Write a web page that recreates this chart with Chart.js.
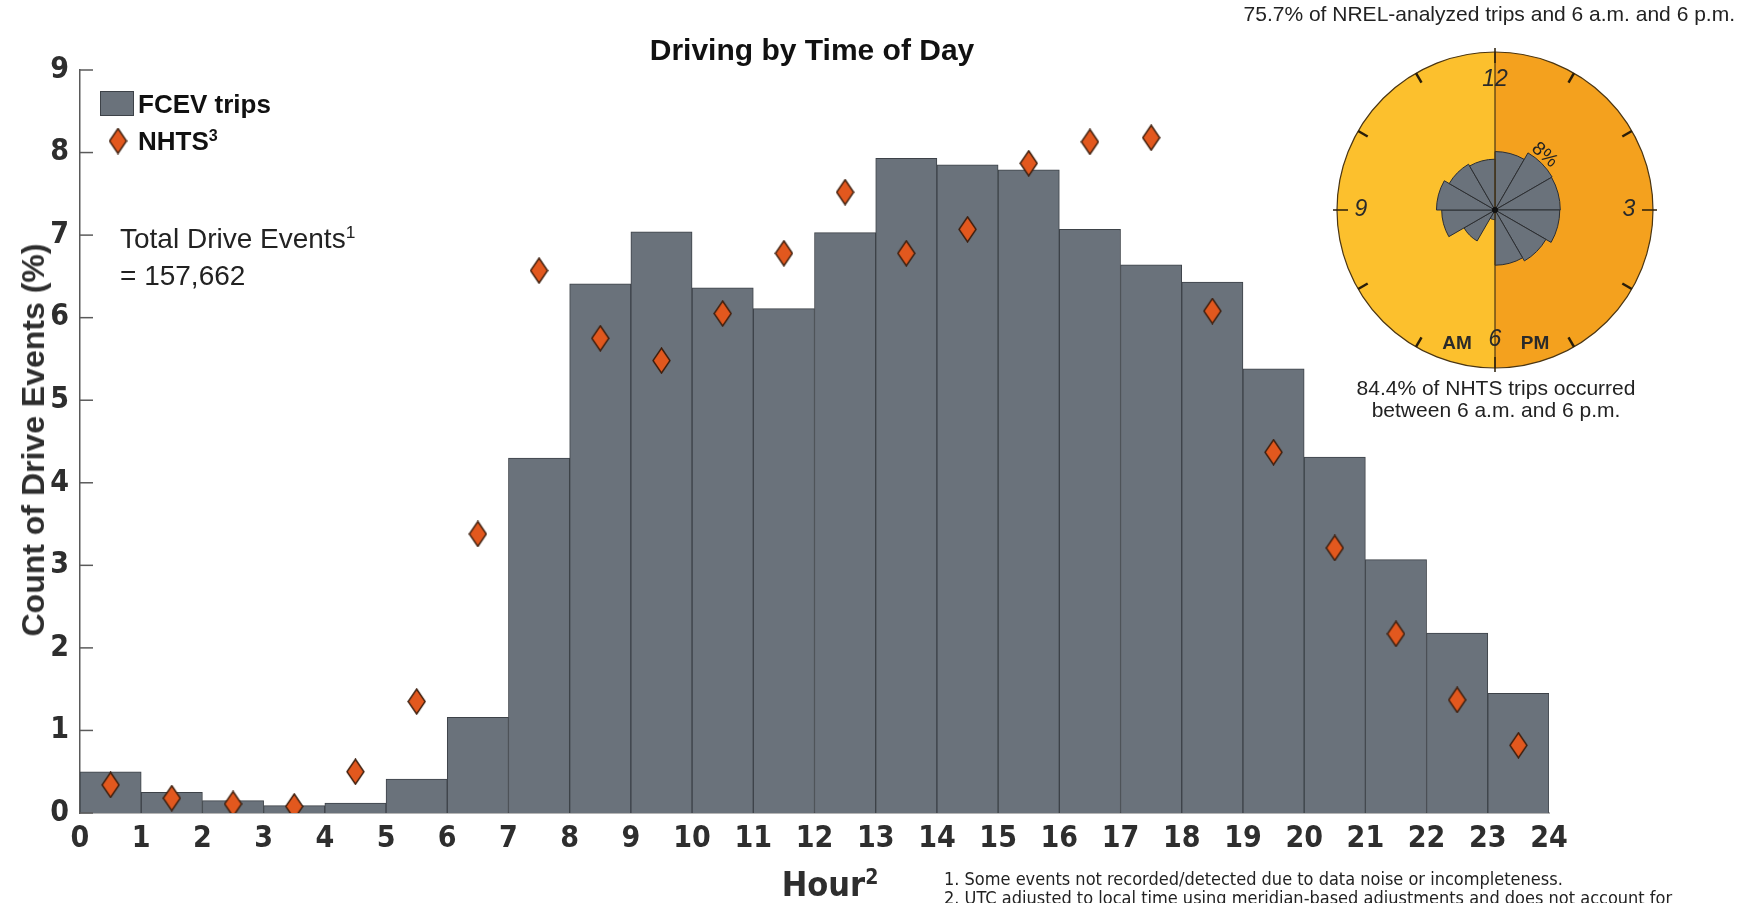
<!DOCTYPE html>
<html>
<head>
<meta charset="utf-8">
<title>Driving by Time of Day</title>
<script src="https://cdn.jsdelivr.net/npm/chart.js@4.4.1/dist/chart.umd.min.js"></script>
<style>
    html, body { margin: 0; padding: 0; background: #fff; }
    #page { position: relative; width: 1744px; height: 903px; overflow: hidden; }
    #mainCanvas { position: absolute; left: 0; top: 0; }
    #roseCanvas { position: absolute; left: 1325px; top: 40px; }
    .txt { position: absolute; white-space: nowrap; color: #222; font-family: 'Liberation Sans', Arial, sans-serif; line-height: 1; }
    .mid { transform: translate(-50%, -50%); }
    .lft { transform: translate(0, -50%); }
    .narrow { font-family: 'Liberation Sans Narrow', 'Arial Narrow', 'DejaVu Sans Condensed', sans-serif; }
    sup { font-size: 0.62em; vertical-align: 0.55em; line-height: 0; }
</style>
</head>
<body>
<div id="page">
    <canvas id="mainCanvas" width="1744" height="903"></canvas>
    <canvas id="roseCanvas" width="340" height="340"></canvas>

    <div class="txt mid" style="left:812px; top:50px; font-size:30px; font-weight:bold; color:#111;">Driving by Time of Day</div>
    <div class="txt mid" style="left:33px; top:440px; font-size:32px; font-weight:bold; color:#2e2e2e; transform: translate(-50%, -50%) rotate(-90deg);">Count of Drive Events (%)</div>
    <div class="txt mid narrow" style="left:830px; top:884px; font-size:34px; font-weight:bold; color:#2e2e2e;">Hour<sup>2</sup></div>

    <div class="txt lft" style="left:138px; top:104px; font-size:26px; font-weight:bold; color:#111;">FCEV trips</div>
    <div class="txt lft" style="left:138px; top:141px; font-size:26px; font-weight:bold; color:#111;">NHTS<sup>3</sup></div>

    <div class="txt lft" style="left:120px; top:239px; font-size:28px;">Total Drive Events<sup>1</sup></div>
    <div class="txt lft" style="left:120px; top:276px; font-size:28px;">= 157,662</div>

    <div class="txt" style="right:9px; top:3px; font-size:21px;">75.7% of NREL-analyzed trips and 6 a.m. and 6 p.m.</div>
    <div class="txt mid" style="left:1496px; top:387px; font-size:21px;">84.4% of NHTS trips occurred</div>
    <div class="txt mid" style="left:1496px; top:409px; font-size:21px;">between 6 a.m. and 6 p.m.</div>

    <div class="txt lft narrow" style="left:944px; top:879px; font-size:18px;">1. Some events not recorded/detected due to data noise or incompleteness.</div>
    <div class="txt lft narrow" style="left:944px; top:898px; font-size:18px;">2. UTC adjusted to local time using meridian-based adjustments and does not account for</div>
</div>

<script>
'use strict';

// ===== DATA =====
const hours = [0, 1, 2, 3, 4, 5, 6, 7, 8, 9, 10, 11, 12, 13, 14, 15, 16, 17, 18, 19, 20, 21, 22, 23];
const fcevTrips = [0.50, 0.25, 0.15, 0.09, 0.12, 0.41, 1.16, 4.30, 6.41, 7.04, 6.36, 6.11,
                   7.03, 7.93, 7.85, 7.79, 7.07, 6.64, 6.43, 5.38, 4.31, 3.07, 2.18, 1.45];
const nhtsTrips = [0.34, 0.18, 0.11, 0.08, 0.50, 1.35, 3.38, 6.57, 5.75, 5.48, 6.05, 6.78,
                   7.52, 6.78, 7.07, 7.87, 8.13, 8.18, 6.08, 4.37, 3.21, 2.17, 1.37, 0.82];

// rose inset: clock face from noon clockwise, 6 a.m. to 6 p.m.
const roseHours = [12, 13, 14, 15, 16, 17, 6, 7, 8, 9, 10, 11];
const roseValues = roseHours.map(h => fcevTrips[h]);
const clockLabels = ['12', '3', '6', '9'];

const NARROW = "'Liberation Sans Narrow', 'Arial Narrow', 'DejaVu Sans Condensed', sans-serif";
const SANS = "'Liberation Sans', Arial, sans-serif";
const BAR_FILL = '#6a727b';
const BAR_EDGE = '#3d4248';

// ===== DIAMOND MARKER =====
function makeDiamond(w, h) {
    const c = document.createElement('canvas');
    c.width = w;
    c.height = h;
    const g = c.getContext('2d');
    g.beginPath();
    g.moveTo(w / 2, 1);
    g.lineTo(w - 1, h / 2);
    g.lineTo(w / 2, h - 1);
    g.lineTo(1, h / 2);
    g.closePath();
    g.fillStyle = '#e2581e';
    g.fill();
    g.lineWidth = 1.4;
    g.strokeStyle = '#3b1d0c';
    g.stroke();
    return c;
}
const diamond = makeDiamond(19, 27);

// ===== MAIN CHART =====
const axisDecor = {
    id: 'axisDecor',
    afterDraw(chart) {
        const ctx = chart.ctx;
        const y = chart.scales.y;
        const left = chart.chartArea.left;
        ctx.save();
        // inward tick marks on the y axis
        ctx.strokeStyle = '#5a5a5a';
        ctx.lineWidth = 1.5;
        y.ticks.forEach(t => {
            const py = y.getPixelForValue(t.value);
            ctx.beginPath();
            ctx.moveTo(left, py);
            ctx.lineTo(left + 13, py);
            ctx.stroke();
        });
        // legend symbols
        ctx.fillStyle = BAR_FILL;
        ctx.strokeStyle = BAR_EDGE;
        ctx.lineWidth = 1;
        ctx.fillRect(100, 91, 34, 25);
        ctx.strokeRect(100.5, 91.5, 33, 24);
        ctx.drawImage(diamond, 118 - diamond.width / 2, 141 - diamond.height / 2);
        ctx.restore();
    }
};

new Chart(document.getElementById('mainCanvas'), {
    type: 'bar',
    data: {
        datasets: [{
            type: 'scatter',
            label: 'NHTS',
            data: hours.map((h, i) => ({ x: h + 0.5, y: nhtsTrips[i] })),
            pointStyle: diamond,
            order: 1
        }, {
            type: 'bar',
            label: 'FCEV trips',
            data: hours.map((h, i) => ({ x: h + 0.5, y: fcevTrips[i] })),
            backgroundColor: BAR_FILL,
            borderColor: BAR_EDGE,
            borderWidth: 1,
            barPercentage: 1,
            categoryPercentage: 1,
            order: 2
        }]
    },
    options: {
        responsive: false,
        animation: false,
        layout: { padding: { left: 0, top: 70, right: 195, bottom: 30 } },
        plugins: {
            legend: { display: false },
            tooltip: { enabled: false },
            title: { display: false }
        },
        scales: {
            x: {
                type: 'linear',
                min: 0,
                max: 24,
                offset: false,
                ticks: {
                    stepSize: 1,
                    padding: 8,
                    color: '#2e2e2e',
                    font: { family: NARROW, size: 30, weight: 'bold' }
                },
                grid: { display: false, drawTicks: false },
                border: { display: true, color: '#b5b5b5', width: 2 },
                afterFit: s => { s.height = 60; }
            },
            y: {
                min: 0,
                max: 9,
                ticks: {
                    stepSize: 1,
                    padding: 11,
                    color: '#2e2e2e',
                    font: { family: NARROW, size: 30, weight: 'bold' }
                },
                grid: { display: false, drawTicks: false },
                border: { display: true, color: '#5a5a5a', width: 1.5 },
                afterFit: s => { s.width = 80; }
            }
        }
    },
    plugins: [axisDecor]
});

// ===== ROSE INSET =====
const clockFace = {
    id: 'clockFace',
    beforeDatasetsDraw(chart) {
        const r = chart.scales.r;
        const cx = r.xCenter, cy = r.yCenter, R = r.drawingArea;
        const ctx = chart.ctx;
        ctx.save();
        // AM half (left) and PM half (right)
        ctx.beginPath();
        ctx.moveTo(cx, cy);
        ctx.arc(cx, cy, R, Math.PI / 2, Math.PI * 1.5);
        ctx.closePath();
        ctx.fillStyle = '#fcc02d';
        ctx.fill();
        ctx.beginPath();
        ctx.moveTo(cx, cy);
        ctx.arc(cx, cy, R, -Math.PI / 2, Math.PI / 2);
        ctx.closePath();
        ctx.fillStyle = '#f4a11e';
        ctx.fill();
        ctx.restore();
    },
    afterDatasetsDraw(chart) {
        const r = chart.scales.r;
        const cx = r.xCenter, cy = r.yCenter, R = r.drawingArea;
        const ctx = chart.ctx;
        ctx.save();
        ctx.strokeStyle = '#4a3512';
        ctx.lineWidth = 1.2;
        ctx.beginPath();
        ctx.arc(cx, cy, R, 0, Math.PI * 2);
        ctx.stroke();
        // noon / six divider
        ctx.beginPath();
        ctx.moveTo(cx, cy - R);
        ctx.lineTo(cx, cy + R);
        ctx.stroke();
        // hour marks
        ctx.strokeStyle = '#2a1e0a';
        for (let k = 0; k < 12; k++) {
            const a = k * Math.PI / 6 - Math.PI / 2;
            const quarter = k % 3 === 0;
            const r0 = R - 11;
            const r1 = quarter ? R + 4 : R;
            ctx.lineWidth = quarter ? 1.5 : 2.5;
            ctx.beginPath();
            ctx.moveTo(cx + r0 * Math.cos(a), cy + r0 * Math.sin(a));
            ctx.lineTo(cx + r1 * Math.cos(a), cy + r1 * Math.sin(a));
            ctx.stroke();
        }
        // clock numbers
        ctx.fillStyle = '#2a2a2a';
        ctx.font = 'italic 23px ' + SANS;
        ctx.textAlign = 'center';
        ctx.textBaseline = 'middle';
        clockLabels.forEach((lab, k) => {
            const a = k * Math.PI / 2 - Math.PI / 2;
            const d = R - 24;
            ctx.fillText(lab, cx + d * Math.cos(a), cy + d * Math.sin(a) + (k === 0 ? 4 : k === 2 ? -4 : 0));
        });
        ctx.font = 'bold 19px ' + SANS;
        ctx.fillText('AM', cx - 38, cy + R - 24);
        ctx.fillText('PM', cx + 40, cy + R - 24);
        // center dot
        ctx.beginPath();
        ctx.arc(cx, cy, 3, 0, Math.PI * 2);
        ctx.fillStyle = '#111';
        ctx.fill();
        // radial label
        const ang = 42 * Math.PI / 180;
        const d8 = r.getDistanceFromCenterForValue(8.9);
        ctx.translate(cx + d8 * Math.sin(ang), cy - d8 * Math.cos(ang));
        ctx.rotate(ang);
        ctx.font = '19px ' + SANS;
        ctx.fillStyle = '#222';
        ctx.fillText('8%', 0, 0);
        ctx.restore();
    }
};

new Chart(document.getElementById('roseCanvas'), {
    type: 'polarArea',
    data: {
        labels: roseHours.map(h => h + ':00'),
        datasets: [{
            data: roseValues,
            backgroundColor: BAR_FILL,
            borderColor: '#2b2e33',
            borderWidth: 1
        }]
    },
    options: {
        responsive: false,
        animation: false,
        layout: { padding: 12 },
        plugins: {
            legend: { display: false },
            tooltip: { enabled: false }
        },
        scales: {
            r: {
                min: 0,
                max: 19,
                ticks: { display: false },
                grid: { display: false },
                angleLines: { display: false },
                pointLabels: { display: false }
            }
        }
    },
    plugins: [clockFace]
});
</script>
</body>
</html>
